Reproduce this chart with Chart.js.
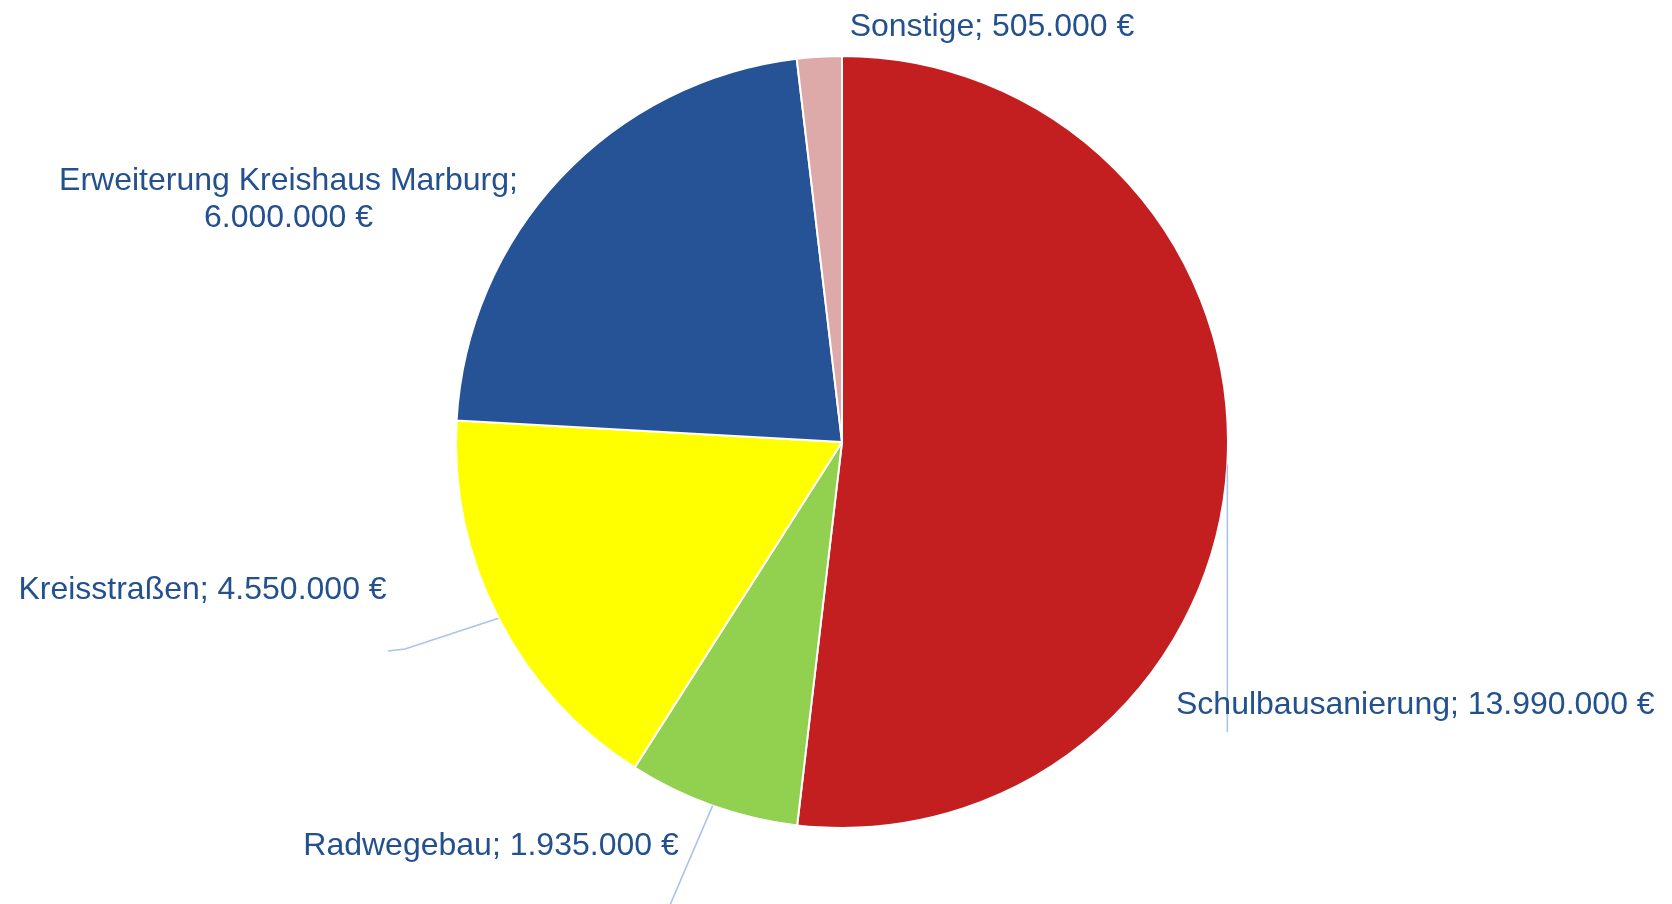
<!DOCTYPE html>
<html>
<head>
<meta charset="utf-8">
<script src="https://cdn.jsdelivr.net/npm/chart.js@4/dist/chart.umd.min.js"></script>
<style>
  html, body { margin: 0; padding: 0; background: #ffffff; }
  #wrap { width: 1672px; height: 904px; }
</style>
</head>
<body>
<div id="wrap"><canvas id="c" width="1672" height="904"></canvas></div>
<script>
// ---- data ----
const categories = ["Schulbausanierung", "Radwegebau", "Kreisstraßen", "Erweiterung Kreishaus Marburg", "Sonstige"];
const values = [13990000, 1935000, 4550000, 6000000, 505000];
const sliceColors = ["#C41F20", "#92D050", "#FFFF00", "#255395", "#DDA9A9"];

// ---- label layout (relative to pie centre, px) ----
// lines: text lines; x: anchor x; ys: baselines; align; leader: points after slice-mid edge point
const labelLayout = [
  { align: "left",   x: 334,    ys: [272],        split: false, leader: [[386, 290]], leaderVertical: true },
  { align: "center", x: -351,   ys: [413],        split: false, leader: [[-175, 470]] },
  { align: "center", x: -639.5, ys: [157],        split: false, leader: [[-437, 207], [-454, 209]] },
  { align: "center", x: -553.5, ys: [-252, -215], split: true,  leader: null },
  { align: "center", x: 150,    ys: [-406],       split: false, leader: null }
];

function fmtEuro(v) {
  return String(v).replace(/\B(?=(\d{3})+(?!\d))/g, ".") + " €";
}

const labelPlugin = {
  id: "sliceLabels",
  afterDatasetsDraw(chart) {
    const ctx = chart.ctx;
    const meta = chart.getDatasetMeta(0);
    ctx.save();
    meta.data.forEach((arc, i) => {
      const p = arc.getProps(["x", "y", "startAngle", "endAngle", "outerRadius"], true);
      const cx = p.x, cy = p.y;
      const lay = labelLayout[i];
      // leader line
      if (lay.leader) {
        const mid = (p.startAngle + p.endAngle) / 2;
        const sx = cx + Math.cos(mid) * p.outerRadius;
        const sy = cy + Math.sin(mid) * p.outerRadius;
        ctx.beginPath();
        ctx.strokeStyle = "#A9C4EA";
        ctx.lineWidth = 1.6;
        ctx.moveTo(sx, sy);
        lay.leader.forEach(pt => {
          if (lay.leaderVertical) ctx.lineTo(sx, cy + pt[1]);
          else ctx.lineTo(cx + pt[0], cy + pt[1]);
        });
        ctx.stroke();
      }
      // text
      const name = categories[i];
      const val = fmtEuro(values[i]);
      const lines = lay.split ? [name + ";", val] : [name + "; " + val];
      ctx.fillStyle = "#23508E";
      ctx.font = "32px 'Liberation Sans', Arial, sans-serif";
      ctx.textAlign = lay.align;
      ctx.textBaseline = "alphabetic";
      lines.forEach((t, k) => ctx.fillText(t, cx + lay.x, cy + lay.ys[k]));
    });
    ctx.restore();
  }
};

new Chart(document.getElementById("c"), {
  type: "pie",
  data: {
    labels: categories,
    datasets: [{
      data: values,
      backgroundColor: sliceColors,
      borderColor: "#ffffff",
      borderWidth: 2
    }]
  },
  options: {
    responsive: false,
    animation: false,
    layout: { padding: { top: 55, bottom: 75, left: 400, right: 388 } },
    plugins: {
      legend: { display: false },
      tooltip: { enabled: false }
    }
  },
  plugins: [labelPlugin]
});
</script>
</body>
</html>
